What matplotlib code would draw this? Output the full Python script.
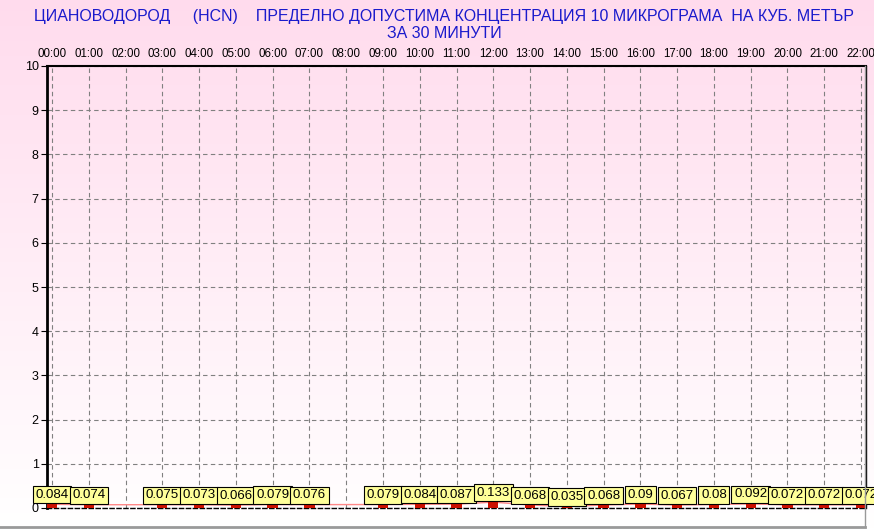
import numpy as np
import matplotlib.pyplot as plt
from matplotlib.lines import Line2D

hours = list(range(23))
hour_labels = [f"{h:02d}:00" for h in hours]
values = [0.084, 0.074, None, 0.075, 0.073, 0.066, 0.079, 0.076, None,
          0.079, 0.084, 0.087, 0.133, 0.068, 0.035, 0.068, 0.09, 0.067,
          0.08, 0.092, 0.072, 0.072, 0.072]
title = ("ЦИАНОВОДОРОД     (HCN)    ПРЕДЕЛНО ДОПУСТИМА КОНЦЕНТРАЦИЯ 10 МИКРОГРАМА  НА КУБ. МЕТЪР\n"
         "ЗА 30 МИНУТИ")

plt.rcParams['font.family'] = ['Liberation Sans', 'DejaVu Sans']

W, H = 874, 529
fig = plt.figure(figsize=(W / 100, H / 100), dpi=100)

# pink -> white background gradient
bg = fig.add_axes([0, 0, 1, 1], zorder=-10)
grad = np.linspace(0, 1, 256)[:, None]
top = np.array([1.0, 0.86, 0.93])
bot = np.array([1.0, 1.0, 1.0])
img = top[None, None, :] * (1 - grad[:, :, None]) + bot[None, None, :] * grad[:, :, None]
bg.imshow(img, aspect="auto", extent=[0, 1, 0, 1])
bg.axis("off")

# plot area in pixel coordinates
x0, x1, y0, y1 = 47, 866, 66, 508
ax = fig.add_axes([x0 / W, 1 - y1 / H, (x1 - x0) / W, (y1 - y0) / H])
ax.set_facecolor("none")

hx = [h for h, v in zip(hours, values) if v is not None]
hv = [v for v in values if v is not None]

ax.plot(hx, hv, color="#ff8888", lw=1, zorder=2)
ax.bar(hx, hv, width=0.28, color="#cc1100", zorder=4)
for h, v in zip(hx, hv):
    ax.annotate(f"{v:g}", (h, v), xytext=(0, 2.5), textcoords="offset points",
                ha="center", va="bottom", fontsize=9.5, zorder=5,
                bbox=dict(boxstyle="square,pad=0.2", fc="#ffff99", ec="black", lw=0.8))

ax.set_xlim(-0.136, 22.136)
ax.set_ylim(0, 10)
ax.set_xticks(hours)
ax.set_xticklabels(hour_labels, fontsize=8.3)
ax.xaxis.tick_top()
ax.tick_params(axis="x", length=0, pad=4.5)
ax.set_yticks(range(11))
ax.tick_params(axis="y", length=4, labelsize=9, pad=2)
ax.grid(True, color="#808080", linestyle=(0, (4, 3)), lw=0.8)

ax.spines["left"].set_linewidth(2)
ax.spines["left"].set_color("black")
ax.spines["top"].set_linestyle((0, (3, 1)))
ax.spines["top"].set_linewidth(1.5)
ax.spines["bottom"].set_linestyle((0, (3, 2)))
ax.spines["bottom"].set_linewidth(1)
ax.spines["right"].set_linewidth(1)

fig.text(0.508, 1 - 25 / H, title, ha="center", va="center", color="#1a1acc",
         fontsize=11.5, linespacing=1.15)

# outer frame lines (right and bottom)
fig.add_artist(Line2D([0, 865 / W], [1 - 527 / H] * 2, color="#999999", lw=2))
fig.add_artist(Line2D([865 / W] * 2, [1 - 527 / H, 1 - 66 / H], color="#999999", lw=1))

fig.savefig("out.png", dpi=100)
